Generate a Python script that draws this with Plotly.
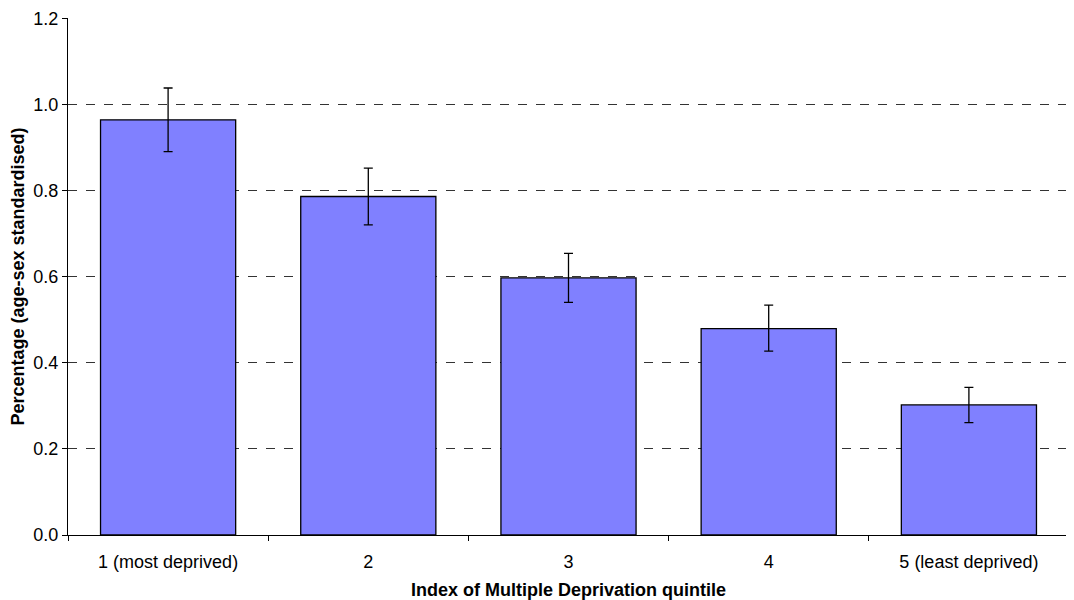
import plotly.graph_objects as go

categories = ["1 (most deprived)", "2", "3", "4", "5 (least deprived)"]
values = [0.964, 0.786, 0.597, 0.479, 0.302]
ci_high = [1.038, 0.852, 0.654, 0.534, 0.343]
ci_low = [0.890, 0.720, 0.540, 0.427, 0.261]
y_max = 1.2

err_plus = [h - v for h, v in zip(ci_high, values)]
err_minus = [v - l for v, l in zip(values, ci_low)]

font = "Liberation Sans, Arial, sans-serif"
fs = 18

fig = go.Figure(go.Bar(
    x=categories, y=values,
    marker=dict(color="#8080FF", line=dict(color="black", width=1.3)),
    width=0.675,
    error_y=dict(type="data", symmetric=False, array=err_plus, arrayminus=err_minus,
                 color="black", thickness=1.3, width=4.5),
))

fig.update_layout(
    width=1066, height=592,
    margin=dict(l=60, r=5, t=10, b=65),
    plot_bgcolor="white", paper_bgcolor="white",
    showlegend=False,
    font=dict(family=font, size=fs, color="black"),
    xaxis=dict(
        title=dict(text="<b>Index of Multiple Deprivation quintile</b>", font=dict(size=fs), standoff=14),
        showline=True, linecolor="black", linewidth=1.3,
        ticks="outside", tickson="boundaries", ticklen=5, tickcolor="black",
        ticklabelstandoff=10,
        showgrid=False, tickfont=dict(size=fs), automargin=False,
    ),
    yaxis=dict(
        title=dict(text="<b>Percentage (age-sex standardised)</b>", font=dict(size=fs), standoff=4),
        range=[0, y_max + 0.0005], tickvals=[0, 0.2, 0.4, 0.6, 0.8, 1.0, 1.2], tickformat=".1f",
        showline=True, linecolor="black", linewidth=1.3,
        ticks="outside", ticklen=5, tickcolor="black",
        showgrid=True, gridcolor="#333333", griddash="dash", gridwidth=1,
        zeroline=False, tickfont=dict(size=fs), automargin=False,
    ),
)

fig.write_html("out.html")
